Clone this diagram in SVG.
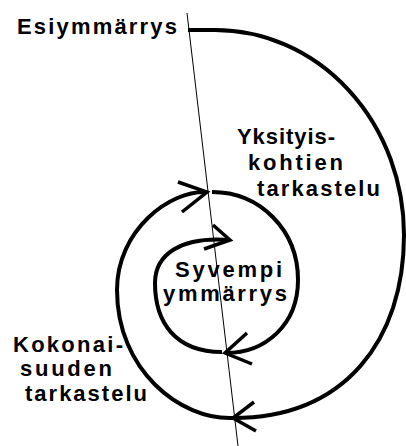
<svg xmlns="http://www.w3.org/2000/svg" width="406" height="446" viewBox="0 0 406 446">
<style>
  text { font-family: "Liberation Sans", Arial, sans-serif; font-size: 22px; font-weight: bold; fill: #000; }
  .arc { fill: none; stroke: #000; stroke-width: 4; stroke-linecap: butt; }
  .barb { fill: none; stroke: #000; stroke-width: 3.5; stroke-linecap: butt; }
  .axis { fill: none; stroke: #000; stroke-width: 1; }
</style>
<rect width="406" height="446" fill="#fff"/>
<g id="connectors">
  <line class="axis" x1="187" y1="13" x2="238" y2="446"/>
  <!-- outer arc -->
  <path class="arc" d="M188,30 L215,30 A189,205 0 0 1 404,235 C404,340 345,418 233,418"/>
  <path class="barb" d="M254,402 L233,418 L256,431"/>
  <!-- left big arc -->
  <path class="arc" d="M233,418 C180,420 117,370 117,290 C117,230 170,190 207,192"/>
  <path class="barb" d="M178,182 L207,192 L182,212"/>
  <!-- middle right arc -->
  <path class="arc" d="M212,192 C260,192 298,230 298,280 C298,325 265,353 226,353"/>
  <path class="barb" d="M247,333 L225,353 L252,364"/>
  <!-- inner arc -->
  <path class="arc" d="M222,352 C175,352 155,322 155,283 C155,255 180,236 230,240"/>
  <path class="barb" d="M213,225 L230,240 L204,249"/>
</g>
<g id="esiymmarrys">
  <text x="17" y="34" textLength="160" lengthAdjust="spacing">Esiymmärrys</text>
</g>
<g id="yksityiskohtien">
  <text x="237" y="144" textLength="98" lengthAdjust="spacing">Yksityis-</text>
  <text x="248" y="170" textLength="95" lengthAdjust="spacing">kohtien</text>
  <text x="257" y="196" textLength="123" lengthAdjust="spacing">tarkastelu</text>
</g>
<g id="syvempi">
  <text x="175" y="277" textLength="107" lengthAdjust="spacing">Syvempi</text>
  <text x="163" y="301" textLength="124" lengthAdjust="spacing">ymmärrys</text>
</g>
<g id="kokonaisuuden">
  <text x="13" y="352" textLength="110" lengthAdjust="spacing">Kokonai-</text>
  <text x="20" y="376" textLength="92" lengthAdjust="spacing">suuden</text>
  <text x="25" y="401" textLength="122" lengthAdjust="spacing">tarkastelu</text>
</g>
</svg>
